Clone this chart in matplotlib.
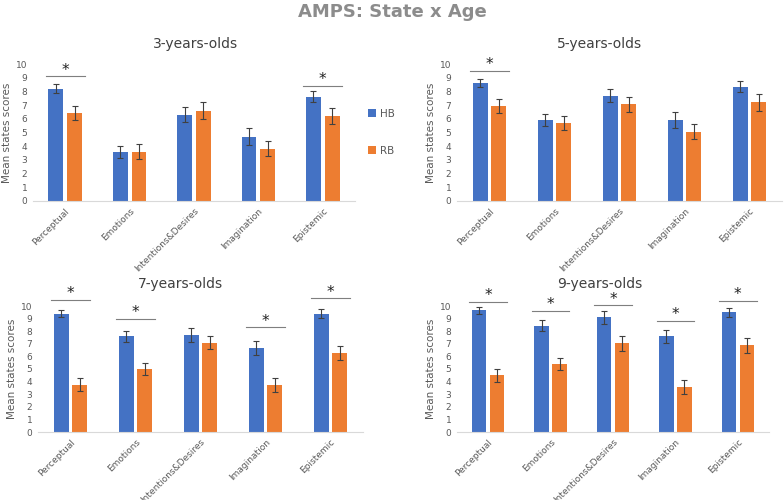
import numpy as np
import matplotlib.pyplot as plt

categories = ['Perceptual', 'Emotions', 'Intentions&Desires', 'Imagination', 'Epistemic']
panel_titles = ['3-years-olds', '5-years-olds', '7-years-olds', '9-years-olds']

# mean scores per age group (HB / RB)
hb_means = [
    [8.2, 3.6, 6.3, 4.7, 7.6],
    [8.6, 5.9, 7.7, 5.9, 8.35],
    [9.4, 7.6, 7.7, 6.7, 9.4],
    [9.65, 8.45, 9.1, 7.6, 9.5],
]
rb_means = [
    [6.4, 3.6, 6.6, 3.8, 6.2],
    [6.95, 5.7, 7.05, 5.05, 7.2],
    [3.75, 5.0, 7.1, 3.75, 6.25],
    [4.5, 5.4, 7.05, 3.6, 6.9],
]
hb_err = [
    [0.35, 0.45, 0.55, 0.6, 0.4],
    [0.3, 0.45, 0.5, 0.6, 0.4],
    [0.3, 0.45, 0.55, 0.55, 0.35],
    [0.3, 0.45, 0.5, 0.5, 0.35],
]
rb_err = [
    [0.5, 0.55, 0.6, 0.55, 0.6],
    [0.5, 0.5, 0.55, 0.55, 0.6],
    [0.5, 0.5, 0.55, 0.55, 0.55],
    [0.5, 0.5, 0.6, 0.55, 0.6],
]
# significance markers: (category index, line height)
sig_marks = [
    [(0, 9.1), (4, 8.4)],
    [(0, 9.5)],
    [(0, 10.5), (1, 9.0), (3, 8.3), (4, 10.6)],
    [(0, 10.3), (1, 9.6), (2, 10.05), (3, 8.8), (4, 10.4)],
]

blue = '#4472C4'
orange = '#ED7D31'
gray_txt = '#595959'

W, H = 784, 500
fig = plt.figure(figsize=(W / 100, H / 100), dpi=100)

# axes boxes in pixels: left, right, y of 0, y of 10
boxes = [
    (33, 355, 201, 64),
    (457, 782, 201, 64),
    (38, 363, 432, 306),
    (457, 769, 432, 306),
]
title_pos = [(196, 44), (600, 44), (180, 284), (600, 284)]

x = np.arange(len(categories))
bw = 0.23
off = 0.145

for i in range(4):
    l, r, y0, y10 = boxes[i]
    ax = fig.add_axes([l / W, 1 - y0 / H, (r - l) / W, (y0 - y10) / H])
    ek = dict(ecolor='#404040', elinewidth=0.8, capsize=2, capthick=0.8)
    ax.bar(x - off, hb_means[i], bw, yerr=hb_err[i], color=blue, label='HB', error_kw=ek)
    ax.bar(x + off, rb_means[i], bw, yerr=rb_err[i], color=orange, label='RB', error_kw=ek)
    ax.set_xlim(-0.5, len(categories) - 0.5)
    ax.set_ylim(0, 10)
    ax.set_yticks(range(11))
    ax.set_xticks(x)
    ax.set_xticklabels(categories, rotation=45, ha='right', rotation_mode='anchor')
    ax.tick_params(axis='both', length=0, labelsize=6.5, colors=gray_txt, pad=4)
    for s in ['top', 'right', 'left']:
        ax.spines[s].set_visible(False)
    ax.spines['bottom'].set_color('#D9D9D9')
    ax.set_ylabel('Mean states scores', fontsize=7.5, color=gray_txt, labelpad=3)
    for ci, h in sig_marks[i]:
        ax.plot([ci - 0.3, ci + 0.3], [h, h], color='#7f7f7f', lw=0.8, clip_on=False)
        ax.text(ci, h - 0.1, '*', ha='center', va='bottom', fontsize=11, color='#222222', clip_on=False)
    fig.text(title_pos[i][0] / W, 1 - title_pos[i][1] / H, panel_titles[i], ha='center', va='center',
             fontsize=10, color='#404040')
    if i == 0:
        ax.legend(loc='center left', bbox_to_anchor=(1.01, 0.5), frameon=False, fontsize=7.5,
                  labelspacing=2.6, handlelength=0.8, handleheight=0.8, handletextpad=0.4,
                  labelcolor=gray_txt)

fig.text(0.5, 1 - 12 / H, 'AMPS: State x Age', ha='center', va='center', fontsize=13,
         fontweight='bold', color='#8c8c8c')

fig.savefig('out.png', dpi=100)
